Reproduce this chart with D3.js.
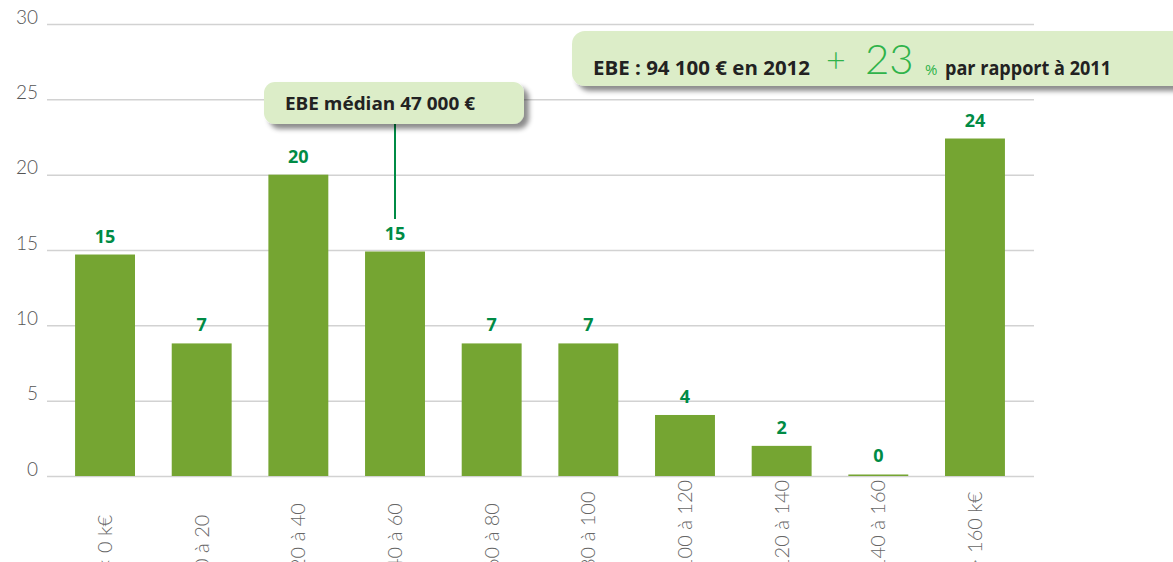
<!DOCTYPE html>
<html>
<head>
<meta charset="utf-8">
<script src="https://cdn.jsdelivr.net/npm/d3@7"></script>
<style>
  body { margin: 0; background: #fff; }
  svg { display: block; }
</style>
</head>
<body>
<svg width="1173" height="562"></svg>
<script>
(() => {

    var width = 1173;
    var height = 562;

    // data
    var categories = ["< 0 k€", "0 à 20", "20 à 40", "40 à 60", "60 à 80",
        "80 à 100", "100 à 120", "120 à 140", "140 à 160", "> 160 k€"];
    var barValues = [14.7, 8.8, 20, 14.9, 8.8, 8.8, 4.05, 2.0, 0.1, 22.4];
    var valueLabels = ["15", "7", "20", "15", "7", "7", "4", "2", "0", "24"];
    var yTicks = [0, 5, 10, 15, 20, 25, 30];
    var medianText = "EBE médian 47 000 €";
    var medianCategory = "40 à 60";

    var svg = d3.select('svg');

    var defs = svg.append('defs');
    var filter = defs.append('filter')
        .attr('id', 'shadow')
        .attr('x', '-10%').attr('y', '-20%')
        .attr('width', '130%').attr('height', '160%');
    filter.append('feDropShadow')
        .attr('dx', 5).attr('dy', 5)
        .attr('stdDeviation', 2.5)
        .attr('flood-color', '#000')
        .attr('flood-opacity', 0.45);

    //scales
    var xScale = d3.scaleBand()
        .domain(categories)
        .range([56.7, 1023.3])
        .paddingInner(0.38)
        .paddingOuter(0.19);
    var yScale = d3.scaleLinear()
        .domain([0, 30])
        .range([476, 24]);

    // grid + y labels
    var yAxis = d3.axisLeft(yScale)
        .tickValues(yTicks)
        .tickSize(-(1034 - 47))
        .tickPadding(9);
    var gy = svg.append('g')
        .attr('transform', 'translate(47,0)')
        .call(yAxis);
    gy.select('.domain').remove();
    gy.selectAll('line')
        .attr('stroke', '#d2d2d2')
        .attr('stroke-width', 1.5);
    gy.selectAll('text')
        .attr('fill', '#555')
        .attr('font-family', 'Lato, "Open Sans", sans-serif')
        .attr('font-weight', 300)
        .attr('font-size', 19)
        .attr('dy', '-0.05em');

    // bars
    svg.selectAll('rect.bar')
        .data(barValues)
        .enter().append('rect')
        .attr('class', 'bar')
        .attr('x', (d, i) => xScale(categories[i]))
        .attr('y', d => yScale(d))
        .attr('width', xScale.bandwidth())
        .attr('height', d => yScale(0) - yScale(d))
        .attr('fill', '#75a532');

    // value labels
    svg.selectAll('text.val')
        .data(barValues)
        .enter().append('text')
        .attr('class', 'val')
        .attr('x', (d, i) => xScale(categories[i]) + xScale.bandwidth() / 2)
        .attr('y', d => yScale(d) - 12)
        .attr('text-anchor', 'middle')
        .attr('fill', '#008b45')
        .attr('font-family', '"Open Sans", "DejaVu Sans", sans-serif')
        .attr('font-weight', 700)
        .attr('font-size', 18)
        .text((d, i) => valueLabels[i]);

    // x labels (rotated, reading upward, start runs off the bottom like the original)
    var xAxis = d3.axisBottom(xScale).tickSize(0).tickPadding(0);
    var gx = svg.append('g')
        .attr('transform', 'translate(0,570)')
        .call(xAxis);
    gx.select('.domain').remove();
    gx.selectAll('text')
        .attr('transform', 'rotate(-90)')
        .attr('x', 0)
        .attr('y', 0)
        .attr('dy', '0.35em')
        .attr('text-anchor', 'start')
        .attr('fill', '#666')
        .attr('font-family', 'Lato, "Open Sans", sans-serif')
        .attr('font-weight', 300)
        .attr('font-size', 20);

    // median annotation
    var mx = xScale(medianCategory) + xScale.bandwidth() / 2;
    svg.append('line')
        .attr('x1', mx).attr('x2', mx)
        .attr('y1', 120).attr('y2', 219)
        .attr('stroke', '#008b45')
        .attr('stroke-width', 2);
    svg.append('rect')
        .attr('x', 264).attr('y', 82)
        .attr('width', 260).attr('height', 42)
        .attr('rx', 11)
        .attr('fill', '#dcedc8')
        .attr('filter', 'url(#shadow)');
    svg.append('text')
        .attr('x', 285).attr('y', 110)
        .attr('fill', '#222')
        .attr('font-family', '"Open Sans", "DejaVu Sans", sans-serif')
        .attr('font-weight', 700)
        .attr('font-size', 18.5)
        .attr('textLength', 190)
        .attr('lengthAdjust', 'spacingAndGlyphs')
        .text(medianText);

    // EBE 2012 box
    svg.append('rect')
        .attr('x', 572).attr('y', 31)
        .attr('width', 640).attr('height', 55)
        .attr('rx', 13)
        .attr('fill', '#dcedc8')
        .attr('filter', 'url(#shadow)');
    var boxFont = '"Open Sans", "DejaVu Sans", sans-serif';
    svg.append('text')
        .attr('x', 593).attr('y', 75)
        .attr('font-family', boxFont)
        .attr('fill', '#222').attr('font-weight', 700).attr('font-size', 19.5)
        .attr('textLength', 217)
        .attr('lengthAdjust', 'spacingAndGlyphs')
        .text('EBE : 94 100 € en 2012');
    svg.append('text')
        .attr('x', 826).attr('y', 72)
        .attr('font-family', 'Lato, sans-serif')
        .attr('fill', '#2fb34a').attr('font-weight', 300).attr('font-size', 34)
        .text('+');
    svg.append('text')
        .attr('x', 865).attr('y', 74)
        .attr('font-family', 'Lato, sans-serif')
        .attr('fill', '#2fb34a').attr('font-weight', 300).attr('font-size', 42)
        .text('23');
    svg.append('text')
        .attr('x', 925).attr('y', 75)
        .attr('font-family', boxFont)
        .attr('fill', '#2fb34a').attr('font-weight', 400).attr('font-size', 15)
        .text('%');
    svg.append('text')
        .attr('x', 945).attr('y', 75)
        .attr('font-family', boxFont)
        .attr('fill', '#222').attr('font-weight', 700).attr('font-size', 19.5)
        .attr('textLength', 166)
        .attr('lengthAdjust', 'spacingAndGlyphs')
        .text('par rapport à 2011');

})();
</script>
</body>
</html>
